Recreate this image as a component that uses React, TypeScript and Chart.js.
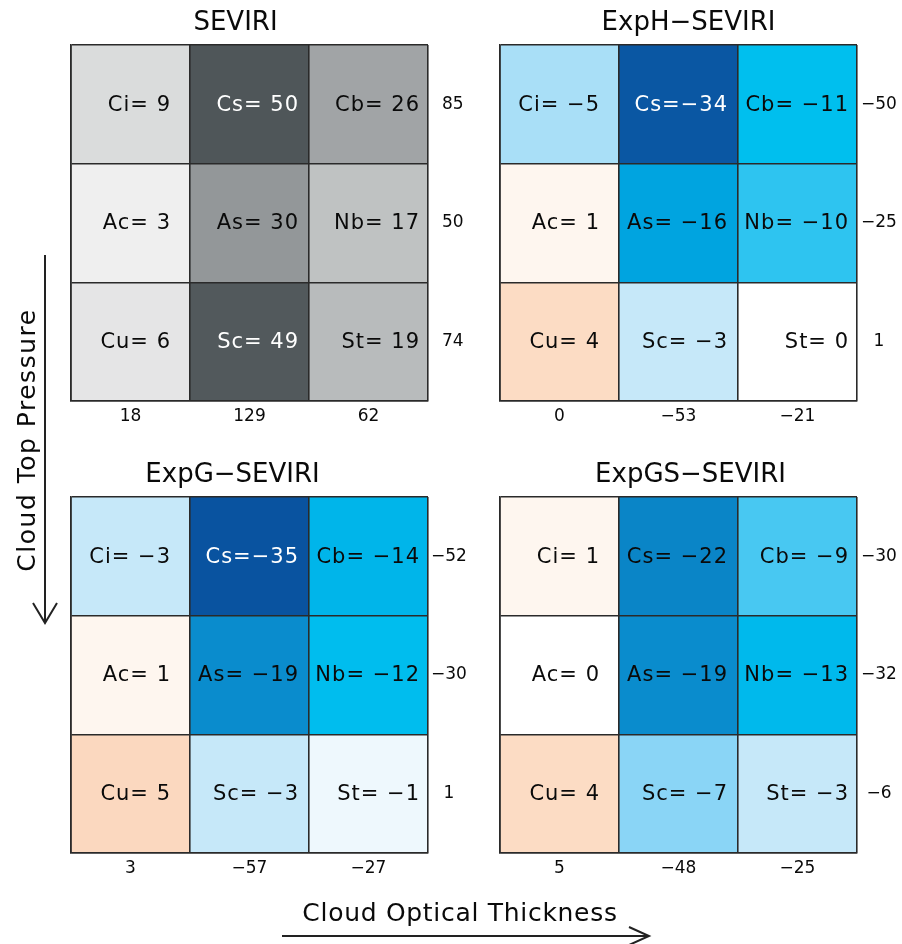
import React, { useEffect, useRef } from 'react';
import { Chart, registerables } from 'chart.js';

Chart.register(...registerables);

// ---------------- data ----------------
const thicknessBins = ['thin', 'medium', 'thick'];
const highTypes = ['Ci', 'Cs', 'Cb'];
const midTypes = ['Ac', 'As', 'Nb'];
const lowTypes = ['Cu', 'Sc', 'St'];

const seviriHigh = [9, 50, 26];
const seviriMid = [3, 30, 17];
const seviriLow = [6, 49, 19];
const seviriRowTotals = [85, 50, 74]; // top row to bottom row
const seviriColTotals = [18, 129, 62];

const expHHigh = [-5, -34, -11];
const expHMid = [1, -16, -10];
const expHLow = [4, -3, 0];
const expHRowTotals = [-50, -25, 1];
const expHColTotals = [0, -53, -21];

const expGHigh = [-3, -35, -14];
const expGMid = [1, -19, -12];
const expGLow = [5, -3, -1];
const expGRowTotals = [-52, -30, 1];
const expGColTotals = [3, -57, -27];

const expGSHigh = [1, -22, -9];
const expGSMid = [0, -19, -13];
const expGSLow = [4, -7, -3];
const expGSRowTotals = [-30, -32, -6];
const expGSColTotals = [5, -48, -25];

// ---------------- styles ----------------
const FONT = '"DejaVu Sans", sans-serif';
const LINE = '#2a2a2a';
const TEXT = '#0a0a0a';
const PAD_L = 10;
const PAD_T = 45;
const PLOT_W = 357;
const PLOT_H = 356;
const AXIS_R = 44;
const AXIS_B = 34;
const CANVAS_W = PAD_L + PLOT_W + AXIS_R;
const CANVAS_H = PAD_T + PLOT_H + AXIS_B;
const CELL_MARGIN = [19, 10, 8];

const diffStops: [number, string][] = [
  [-35, '#0953a0'],
  [-34, '#0a57a3'],
  [-22, '#0a85c7'],
  [-19, '#0a8ccd'],
  [-16, '#00a4e0'],
  [-14, '#00b5ea'],
  [-12, '#00bdee'],
  [-11, '#00bfee'],
  [-10, '#2ec4f0'],
  [-9, '#48c8f2'],
  [-7, '#8ad5f6'],
  [-5, '#a9dff7'],
  [-3, '#c6e8f9'],
  [-1, '#eef8fd'],
  [0, '#ffffff'],
  [1, '#fef6ef'],
  [4, '#fcdcc4'],
  [5, '#fbd8bf'],
];

function hexToRgb(h: string): number[] {
  return [1, 3, 5].map((i) => parseInt(h.slice(i, i + 2), 16));
}

function rgbStr(c: number[]): string {
  return `rgb(${c.map((v) => Math.round(Math.max(0, Math.min(255, v)))).join(',')})`;
}

function diffColor(v: number): number[] {
  if (v <= diffStops[0][0]) return hexToRgb(diffStops[0][1]);
  for (let i = 1; i < diffStops.length; i++) {
    const [v1, c1] = diffStops[i];
    const [v0, c0] = diffStops[i - 1];
    if (v <= v1) {
      const t = (v - v0) / (v1 - v0);
      const a = hexToRgb(c0);
      const b = hexToRgb(c1);
      return a.map((x, k) => x + (b[k] - x) * t);
    }
  }
  return hexToRgb(diffStops[diffStops.length - 1][1]);
}

function grayColor(v: number): number[] {
  const g = 249 - 3.26 * v;
  return [g - 0.14 * v, g, g + 0.05 * v];
}

function luminance(c: number[]): number {
  const lin = c.map((x) => {
    const s = x / 255;
    return s <= 0.04045 ? s / 12.92 : Math.pow((s + 0.055) / 1.055, 2.4);
  });
  return 0.2126 * lin[0] + 0.7152 * lin[1] + 0.0722 * lin[2];
}

function fmt(v: number): string {
  return v < 0 ? '\u2212' + Math.abs(v) : String(v);
}

function cellLabel(name: string, v: number): string {
  return `${name}=${v <= -30 ? '' : ' '}${fmt(v)}`;
}

const cellTextPlugin = {
  id: 'cellText',
  afterDraw(chart: any, _args: any, opts: any) {
    const { ctx, chartArea } = chart;
    ctx.save();
    ctx.fillStyle = TEXT;
    ctx.font = `26px ${FONT}`;
    ctx.textAlign = 'center';
    ctx.textBaseline = 'middle';
    ctx.fillText(
      opts.title,
      (chartArea.left + chartArea.right) / 2 + (opts.titleShift || 0),
      chartArea.top - 22
    );
    ctx.font = `21px ${FONT}`;
    try {
      (ctx as any).letterSpacing = '1px';
    } catch (e) {
      /* ignore */
    }
    ctx.textAlign = 'right';
    chart.data.datasets.forEach((ds: any, di: number) => {
      const meta = chart.getDatasetMeta(di);
      meta.data.forEach((bar: any, i: number) => {
        const p = bar.getProps(['x', 'y', 'base', 'width'], true);
        ctx.fillStyle = ds.textColors[i];
        ctx.fillText(ds.cellLabels[i], p.x + p.width / 2 - CELL_MARGIN[i], (p.y + p.base) / 2 + 1);
      });
    });
    ctx.restore();
  },
};

type PanelProps = {
  title: string;
  high: number[];
  mid: number[];
  low: number[];
  rowTotals: number[];
  colTotals: number[];
  palette: 'gray' | 'diff';
  left: number;
  top: number;
  titleShift: number;
  rightPad: number;
};

function Panel(props: PanelProps) {
  const ref = useRef<HTMLCanvasElement | null>(null);
  useEffect(() => {
    if (!ref.current) return;
    const colorOf = props.palette === 'gray' ? grayColor : diffColor;
    const rows = [
      { names: lowTypes, values: props.low },
      { names: midTypes, values: props.mid },
      { names: highTypes, values: props.high },
    ];
    const datasets = rows.map((r) => {
      const cols = r.values.map((v) => colorOf(v));
      return {
        data: r.values.map(() => 1),
        backgroundColor: cols.map(rgbStr),
        borderWidth: 0,
        barPercentage: 1,
        categoryPercentage: 1,
        xAxisID: 'x',
        yAxisID: 'y',
        cellLabels: r.values.map((v, i) => cellLabel(r.names[i], v)),
        textColors: cols.map((c) => (luminance(c) < 0.15 ? '#ffffff' : TEXT)),
      };
    });
    const tickFont = { family: FONT, size: 17 };
    const chart = new Chart(ref.current, {
      type: 'bar',
      data: { labels: thicknessBins, datasets: datasets as any },
      options: {
        responsive: false,
        animation: false,
        layout: { padding: { left: PAD_L, top: PAD_T, right: 0, bottom: 0 } },
        plugins: {
          legend: { display: false },
          tooltip: { enabled: false },
          cellText: { title: props.title, titleShift: props.titleShift },
        } as any,
        scales: {
          x: {
            type: 'category',
            stacked: true,
            position: 'bottom',
            offset: true,
            grid: { color: LINE, lineWidth: 1.6, drawTicks: false, offset: true, z: 1 } as any,
            border: { color: LINE, width: 1.6, z: 1 } as any,
            ticks: {
              color: TEXT,
              font: tickFont,
              padding: 5,
              maxRotation: 0,
              autoSkip: false,
              callback: (_v: any, i: number) => fmt(props.colTotals[i]),
            },
            afterFit: (s: any) => {
              s.height = AXIS_B;
            },
          },
          y: {
            type: 'linear',
            stacked: true,
            position: 'left',
            min: 0,
            max: 3,
            ticks: { display: false, stepSize: 1 },
            grid: { color: LINE, lineWidth: 1.6, drawTicks: false, z: 1 } as any,
            border: { color: LINE, width: 1.6, z: 1 } as any,
            afterFit: (s: any) => {
              s.width = 0;
            },
          },
          y2: {
            type: 'linear',
            position: 'right',
            min: 0,
            max: 3,
            grid: { display: false, drawTicks: false },
            border: { display: false },
            afterBuildTicks: (s: any) => {
              s.ticks = [0.5, 1.5, 2.5].map((v) => ({ value: v }));
            },
            ticks: {
              color: TEXT,
              font: tickFont,
              padding: props.rightPad,
              crossAlign: 'center',
              callback: (v: any) => fmt(props.rowTotals[2 - Math.floor(Number(v))]),
            },
            afterFit: (s: any) => {
              s.width = AXIS_R;
            },
          },
        },
      },
      plugins: [cellTextPlugin as any],
    });
    return () => chart.destroy();
  }, []);
  return (
    <canvas
      ref={ref}
      width={CANVAS_W}
      height={CANVAS_H}
      style={{ position: 'absolute', left: props.left, top: props.top, width: CANVAS_W, height: CANVAS_H }}
    />
  );
}

export default function App() {
  return (
    <div
      style={{
        position: 'absolute',
        left: 0,
        top: 0,
        width: 902,
        height: 944,
        background: '#ffffff',
        overflow: 'hidden',
        fontFamily: FONT,
        color: TEXT,
      }}
    >
      <Panel title="SEVIRI" high={seviriHigh} mid={seviriMid} low={seviriLow} rowTotals={seviriRowTotals}
        colTotals={seviriColTotals} palette="gray" left={61} top={0} titleShift={-14} rightPad={14} />
      <Panel title={'ExpH\u2212SEVIRI'} high={expHHigh} mid={expHMid} low={expHLow} rowTotals={expHRowTotals}
        colTotals={expHColTotals} palette="diff" left={490} top={0} titleShift={10} rightPad={4} />
      <Panel title={'ExpG\u2212SEVIRI'} high={expGHigh} mid={expGMid} low={expGLow} rowTotals={expGRowTotals}
        colTotals={expGColTotals} palette="diff" left={61} top={452} titleShift={-17} rightPad={3} />
      <Panel title={'ExpGS\u2212SEVIRI'} high={expGSHigh} mid={expGSMid} low={expGSLow} rowTotals={expGSRowTotals}
        colTotals={expGSColTotals} palette="diff" left={490} top={452} titleShift={12} rightPad={4} />
      <svg style={{ position: 'absolute', left: 0, top: 0 }} width={902} height={944}>
        <line x1={45} y1={255} x2={45} y2={621} stroke="#222" strokeWidth={2} />
        <polyline points="33,603 45,623 57,603" fill="none" stroke="#222" strokeWidth={2} />
        <line x1={282} y1={936} x2={647} y2={936} stroke="#222" strokeWidth={2} />
        <polyline points="629,927 649,936 629,945" fill="none" stroke="#222" strokeWidth={2} />
      </svg>
      <div
        style={{
          position: 'absolute',
          left: 27,
          top: 440,
          transform: 'translate(-50%, -50%) rotate(-90deg)',
          fontSize: 25,
          letterSpacing: '1.5px',
          whiteSpace: 'nowrap',
          lineHeight: '30px',
        }}
      >
        Cloud Top Pressure
      </div>
      <div
        style={{
          position: 'absolute',
          left: 460,
          top: 913,
          transform: 'translate(-50%, -50%)',
          fontSize: 25,
          letterSpacing: '0.7px',
          whiteSpace: 'nowrap',
          lineHeight: '30px',
        }}
      >
        Cloud Optical Thickness
      </div>
    </div>
  );
}
